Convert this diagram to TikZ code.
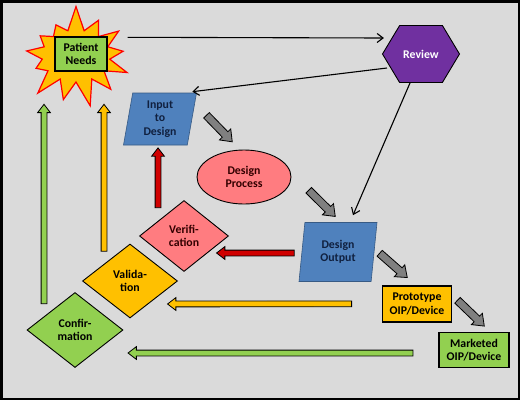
\documentclass[tikz,border=0pt]{standalone}
\usepackage{fontspec}
\setmainfont{Carlito}
\usetikzlibrary{shapes.geometric,shapes.symbols,shapes.arrows,calc,arrows.meta}
\definecolor{bgc}{HTML}{DADADA}
\definecolor{grn}{HTML}{92D050}
\definecolor{ylw}{HTML}{FFC000}
\definecolor{pnk}{HTML}{FF7C80}
\definecolor{blu}{HTML}{4F81BD}
\definecolor{prp}{HTML}{7030A0}
\definecolor{redarr}{HTML}{D00000}
\definecolor{gryarr}{HTML}{808080}
\definecolor{navy}{HTML}{10203F}
% block arrow: colour, from, to
\newcommand\blockarr[4][]{%
  \path let \p1=#3, \p2=#4, \n1={veclen(\x2-\x1,\y2-\y1)} in
    (\p1) -- (\p2) node[barrow, fill=#2, minimum height=\n1, #1, pos=0, anchor=tail, sloped, allow upside down] {};}
\begin{document}
\begin{tikzpicture}[x=1pt,y=-1pt,
  every node/.style={font=\bfseries\fontsize{11.8}{13.5}\selectfont, align=center},
  barrow/.style={single arrow, draw=black, line width=0.8pt, inner xsep=0pt, inner ysep=2.5pt,
    single arrow head extend=3.5pt, single arrow tip angle=75},
  bigarrow/.style={inner ysep=3.5pt, single arrow head extend=4pt},
  conn/.style={-{Straight Barb[length=6pt,width=9pt]}, line width=1.1pt},
  box/.style={rectangle, draw=black, line width=1.4pt, inner sep=1pt},
  para/.style={trapezium, trapezium stretches body, draw=blu!70!black, line width=0.6pt, fill=blu, text=navy},
  dia/.style={diamond, draw=black, line width=0.9pt, inner sep=0pt}]
\useasboundingbox (0,0) rectangle (520,400);
\draw[line width=2.5pt, fill=bgc] (1.25,1.25) rectangle (518.75,398.75);

\node[starburst, starburst points=13, starburst point height=26pt, random starburst=7,
  fill=ylw, draw=red, line width=1.2pt, minimum width=120pt, minimum height=104pt] (burst) at (76,56) {};
\node[box, fill=grn, minimum width=52pt, minimum height=34pt] (pn) at (81,54) {Patient\\Needs};

\node[signal, signal to=west and east, signal from=nothing, signal pointer angle=118, fill=prp, draw=black,
  line width=0.9pt, minimum width=77pt, minimum height=57pt, text=white] (rev) at (421,54) {Review};

\node[para, trapezium left angle=78, trapezium right angle=102, minimum width=73pt, minimum height=52pt] (inp) at (160,119) {Input\\to\\Design};
\node[ellipse, fill=pnk, draw=black, line width=0.9pt, minimum width=94pt, minimum height=54pt, text=black!80!red] (dproc) at (244,177) {Design\\Process};
\node[para, trapezium left angle=79, trapezium right angle=101, minimum width=78pt, minimum height=59pt] (dout) at (338,252) {Design\\Output};
\node[box, fill=ylw, minimum width=69pt, minimum height=36pt] (proto) at (417,304) {Prototype\\OIP/Device};
\node[box, fill=grn, minimum width=70pt, minimum height=35pt] (mkt) at (474,350) {Marketed\\OIP/Device};

\node[dia, fill=pnk, minimum width=89pt, minimum height=71pt, text=black!80!red] (verif) at (184,236) {Verifi-\\cation};
\node[dia, fill=ylw, minimum width=95pt, minimum height=74pt] (valid) at (130,281) {Valida-\\tion};
\node[dia, fill=grn, minimum width=96pt, minimum height=75pt] (conf) at (75,330) {Confir-\\mation};

% thin connectors
\draw[conn] ($(pn.north east)+(20,1)$) -- ($(rev.west)+(2,-16)$);
\draw[conn] ($(rev.west)+(5,14)$) -- ($(inp.north east)+(6,-1)$);
\draw[conn] ($(rev.south)+(-11,0)$) -- ($(dout.north)+(15,-7)$);

% grey block arrows
\blockarr[bigarrow]{gryarr}{($(inp.east)+(14,-4)$)}{($(dproc.north)+(-12,-8)$)}
\blockarr[bigarrow]{gryarr}{($(dproc.east)+(17,13)$)}{($(dout.north)+(-3,-6)$)}
\blockarr[bigarrow]{gryarr}{($(dout.east)+(5,1)$)}{($(proto.north)+(-10,-8)$)}
\blockarr[bigarrow]{gryarr}{($(proto.east)+(5,-4)$)}{($(mkt.north)+(10,-6)$)}

% feedback arrows
\blockarr{redarr}{($(dout.west)+(-7,1)$)}{($(verif.east)+(-12,17)$)}
\blockarr{redarr}{($(verif.north)+(-26,8)$)}{($(inp.south)+(-2,3)$)}
\blockarr{ylw}{($(dout.south)+(14,22)$)}{($(valid.east)+(-10,23)$)}
\blockarr{ylw}{($(valid.north)+(-26,8)$)}{($(pn.south)+(23,33)$)}
\blockarr{grn}{($(mkt.west)+(-25,3)$)}{($(conf.east)+(5,23)$)}
\blockarr{grn}{($(conf.north)+(-31,12)$)}{($(pn.south)+(-37,33)$)}
\end{tikzpicture}
\end{document}
